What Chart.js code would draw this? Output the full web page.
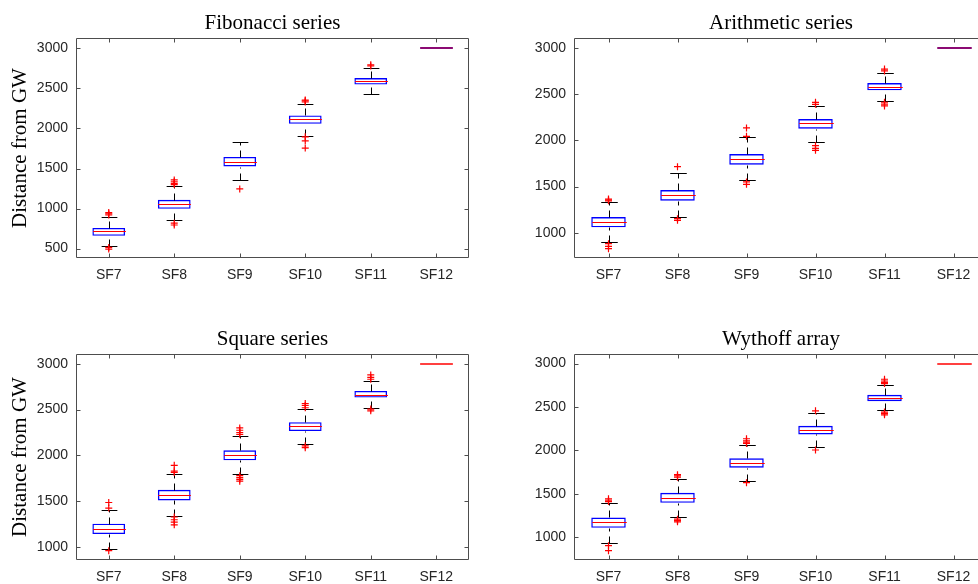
<!DOCTYPE html>
<html>
<head>
    <script src="https://cdn.jsdelivr.net/npm/chart.js@4.4.1/dist/chart.umd.min.js"></script>
    <style>
        body {
            margin: 0;
            background: #fff;
            width: 978px;
            height: 584px;
            overflow: hidden;
            position: relative;
        }

        canvas {
            position: absolute;
        }
    </style>
</head>
<body>
    <canvas id="fibChart"></canvas>
    <canvas id="arithChart"></canvas>
    <canvas id="squareChart"></canvas>
    <canvas id="wythoffChart"></canvas>

    <script>
        const categories = ['SF7', 'SF8', 'SF9', 'SF10', 'SF11', 'SF12'];

        // Fibonacci series
        const fibLower   = [535, 856, 1360, 1910, 2428, 3000];
        const fibQ1      = [660, 997, 1525, 2058, 2548, 3000];
        const fibMedian  = [716, 1056, 1585, 2112, 2592, 3000];
        const fibQ3      = [759, 1110, 1645, 2163, 2630, 3000];
        const fibUpper   = [900, 1283, 1825, 2310, 2752, 3000];
        const fibOutliers = [
            [515, 495, 920, 935, 950],
            [818, 795, 1300, 1315, 1335, 1358],
            [1245],
            [1895, 1845, 1755, 2330, 2345, 2355],
            [2780, 2795],
            []
        ];
        const fibTicks = [500, 1000, 1500, 2000, 2500, 3000];

        // Arithmetic series
        const arithLower  = [902, 1170, 1568, 1987, 2425, 3000];
        const arithQ1     = [1058, 1347, 1738, 2128, 2544, 3000];
        const arithMedian = [1116, 1408, 1799, 2186, 2584, 3000];
        const arithQ3     = [1170, 1463, 1853, 2233, 2624, 3000];
        const arithUpper  = [1336, 1644, 2034, 2374, 2736, 3000];
        const arithOutliers = [
            [880, 851, 826, 1345, 1355, 1365],
            [1152, 1134, 1716],
            [1550, 1524, 2045, 2136],
            [1944, 1915, 1893, 2392, 2414],
            [2415, 2395, 2375, 2755, 2775],
            []
        ];
        const arithTicks = [1000, 1500, 2000, 2500, 3000];

        // Square series
        const squareLower  = [978, 1343, 1796, 2121, 2519, 3000];
        const squareQ1     = [1144, 1510, 1947, 2266, 2631, 3000];
        const squareMedian = [1199, 1568, 2002, 2316, 2664, 3000];
        const squareQ3     = [1257, 1626, 2056, 2363, 2703, 3000];
        const squareUpper  = [1408, 1799, 2215, 2501, 2812, 3000];
        const squareOutliers = [
            [964, 1427, 1488],
            [1330, 1300, 1275, 1245, 1815, 1830, 1893],
            [1780, 1760, 1740, 1720, 2230, 2250, 2275, 2300],
            [2105, 2085, 2520, 2545, 2566],
            [2505, 2486, 2830, 2850, 2877],
            []
        ];
        const squareTicks = [1000, 1500, 2000, 2500, 3000];

        // Wythoff array
        const wythoffLower  = [935, 1226, 1651, 2042, 2464, 3000];
        const wythoffQ1     = [1107, 1395, 1801, 2184, 2567, 3000];
        const wythoffMedian = [1169, 1452, 1855, 2234, 2602, 3000];
        const wythoffQ3     = [1226, 1510, 1908, 2284, 2640, 3000];
        const wythoffUpper  = [1395, 1671, 2065, 2429, 2751, 3000];
        const wythoffOutliers = [
            [901, 843, 1410, 1425, 1441],
            [1207, 1190, 1176, 1690, 1705, 1720],
            [1628, 2080, 2095, 2111, 2134],
            [2004, 2456],
            [2441, 2425, 2410, 2770, 2785, 2800, 2820],
            []
        ];
        const wythoffTicks = [1000, 1500, 2000, 2500, 3000];

        const AXIS_W = 76;
        const TOP_H = 38;
        const XAXIS_H = 30;
        const PAD_R = 9;
        const FRAME = '#4d4d4d';

        Chart.defaults.font.family = "'Liberation Sans', Arial, sans-serif";

        // axes frame with inward ticks, then whiskers, caps and medians right after the boxes
        const boxExtras = {
            id: 'boxExtras',
            beforeDatasetsDraw(chart) {
                const { ctx, chartArea: a, scales: { x, y } } = chart;
                ctx.save();
                ctx.strokeStyle = FRAME;
                ctx.lineWidth = 1;
                const L = Math.round(a.left) + 0.5, R = Math.round(a.right) - 0.5;
                const T = Math.round(a.top) + 0.5, B = Math.round(a.bottom) - 0.5;
                ctx.beginPath();
                ctx.rect(L, T, R - L, B - T);
                y.ticks.forEach(t => {
                    const py = Math.round(y.getPixelForValue(t.value)) + 0.5;
                    ctx.moveTo(L, py); ctx.lineTo(L + 4, py);
                    ctx.moveTo(R, py); ctx.lineTo(R - 4, py);
                });
                categories.forEach((c, i) => {
                    const px = Math.round(x.getPixelForValue(i)) + 0.5;
                    ctx.moveTo(px, B); ctx.lineTo(px, B - 4);
                    ctx.moveTo(px, T); ctx.lineTo(px, T + 4);
                });
                ctx.stroke();
                ctx.restore();
            },
            afterDatasetDraw(chart, args, opts) {
                if (args.index !== 0) return;
                const { ctx, scales: { x, y } } = chart;
                const s = opts.stats;
                const band = x.getPixelForValue(1) - x.getPixelForValue(0);
                const boxHalf = band * 0.25;
                const capHalf = band * 0.12;
                const py = v => Math.round(y.getPixelForValue(v)) + 0.5;
                ctx.save();
                ctx.lineWidth = 1;
                categories.forEach((c, i) => {
                    const cx = Math.round(x.getPixelForValue(i)) + 0.5;
                    ctx.strokeStyle = '#000';
                    ctx.setLineDash([7, 5]);
                    if (s.upper[i] > s.q3[i]) {
                        ctx.beginPath();
                        ctx.moveTo(cx, py(s.q3[i]));
                        ctx.lineTo(cx, py(s.upper[i]));
                        ctx.stroke();
                    }
                    if (s.lower[i] < s.q1[i]) {
                        ctx.beginPath();
                        ctx.moveTo(cx, py(s.lower[i]));
                        ctx.lineTo(cx, py(s.q1[i]));
                        ctx.stroke();
                    }
                    ctx.setLineDash([]);
                    if (s.upper[i] > s.q3[i] || s.lower[i] < s.q1[i]) {
                        ctx.beginPath();
                        ctx.moveTo(cx - capHalf, py(s.upper[i]));
                        ctx.lineTo(cx + capHalf, py(s.upper[i]));
                        ctx.moveTo(cx - capHalf, py(s.lower[i]));
                        ctx.lineTo(cx + capHalf, py(s.lower[i]));
                        ctx.stroke();
                    }
                    const flat = s.q1[i] === s.q3[i];
                    ctx.strokeStyle = flat ? opts.flatColor : '#ff0000';
                    ctx.lineWidth = flat ? opts.flatWidth : 1;
                    const my = flat ? Math.round(y.getPixelForValue(s.median[i])) : py(s.median[i]);
                    ctx.beginPath();
                    ctx.moveTo(cx - boxHalf, my);
                    ctx.lineTo(cx + boxHalf, my);
                    ctx.stroke();
                    ctx.lineWidth = 1;
                });
                ctx.restore();
            }
        };

        function makePanel(id, frame, title, yTitle, stats, outliers, yMin, yMax, yTicks, flatColor, flatWidth) {
            const canvas = document.getElementById(id);
            const w = frame.right - frame.left + AXIS_W + PAD_R;
            const h = frame.bottom - frame.top + TOP_H + XAXIS_H;
            canvas.width = w;
            canvas.height = h;
            canvas.style.left = (frame.left - AXIS_W) + 'px';
            canvas.style.top = (frame.top - TOP_H) + 'px';

            const points = [];
            outliers.forEach((list, i) => list.forEach(v => points.push({ x: categories[i], y: v })));

            return new Chart(canvas.getContext('2d'), {
                type: 'bar',
                data: {
                    labels: categories,
                    datasets: [{
                        data: stats.q1.map((v, i) => [v, stats.q3[i]]),
                        backgroundColor: 'rgba(0,0,0,0)',
                        borderColor: '#0000ff',
                        borderWidth: 1.4,
                        borderSkipped: false,
                        barPercentage: 0.5,
                        categoryPercentage: 1,
                        order: 1
                    }, {
                        type: 'scatter',
                        data: points,
                        pointStyle: 'cross',
                        pointRadius: 3.5,
                        borderColor: '#ff0000',
                        borderWidth: 1.2,
                        order: 0
                    }]
                },
                options: {
                    responsive: false,
                    animation: false,
                    layout: { padding: { left: 0, top: 0, right: PAD_R, bottom: 0 } },
                    plugins: {
                        legend: { display: false },
                        tooltip: { enabled: false },
                        title: {
                            display: true,
                            text: title,
                            fullSize: false,
                            color: '#000',
                            font: { family: "'Liberation Serif', serif", size: 21, weight: 'normal' },
                            padding: { top: 10.5, bottom: 2.3 }
                        },
                        boxExtras: { stats: stats, flatColor: flatColor, flatWidth: flatWidth }
                    },
                    scales: {
                        x: {
                            type: 'category',
                            offset: true,
                            grid: { display: false, drawTicks: false },
                            border: { display: false },
                            ticks: { color: '#262626', font: { size: 14 }, padding: 8.5, maxRotation: 0 },
                            afterFit: scale => { scale.height = XAXIS_H; }
                        },
                        y: {
                            min: yMin,
                            max: yMax,
                            grid: { display: false, drawTicks: false },
                            border: { display: false },
                            ticks: {
                                color: '#262626',
                                font: { size: 14 },
                                padding: 8,
                                callback: v => String(v)
                            },
                            afterBuildTicks: scale => { scale.ticks = yTicks.map(v => ({ value: v })); },
                            afterFit: scale => { scale.width = AXIS_W; },
                            title: {
                                display: !!yTitle,
                                text: yTitle,
                                color: '#000',
                                font: { family: "'Liberation Serif', serif", size: 21 },
                                padding: { top: 8, bottom: 0 }
                            }
                        }
                    }
                },
                plugins: [boxExtras]
            });
        }

        makePanel('fibChart', { left: 76, top: 38, right: 469, bottom: 258 }, 'Fibonacci series', 'Distance from GW',
            { lower: fibLower, q1: fibQ1, median: fibMedian, q3: fibQ3, upper: fibUpper },
            fibOutliers, 383, 3129, fibTicks, '#8b0a73', 2);

        makePanel('arithChart', { left: 574, top: 38, right: 988, bottom: 258 }, 'Arithmetic series', '',
            { lower: arithLower, q1: arithQ1, median: arithMedian, q3: arithQ3, upper: arithUpper },
            arithOutliers, 725, 3112, arithTicks, '#8b0a73', 2);

        makePanel('squareChart', { left: 76, top: 354, right: 469, bottom: 560 }, 'Square series', 'Distance from GW',
            { lower: squareLower, q1: squareQ1, median: squareMedian, q3: squareQ3, upper: squareUpper },
            squareOutliers, 862, 3105, squareTicks, '#ff0000', 1.5);

        makePanel('wythoffChart', { left: 574, top: 354, right: 988, bottom: 560 }, 'Wythoff array', '',
            { lower: wythoffLower, q1: wythoffQ1, median: wythoffMedian, q3: wythoffQ3, upper: wythoffUpper },
            wythoffOutliers, 736, 3111, wythoffTicks, '#ff0000', 1.5);
    </script>
</body>
</html>
